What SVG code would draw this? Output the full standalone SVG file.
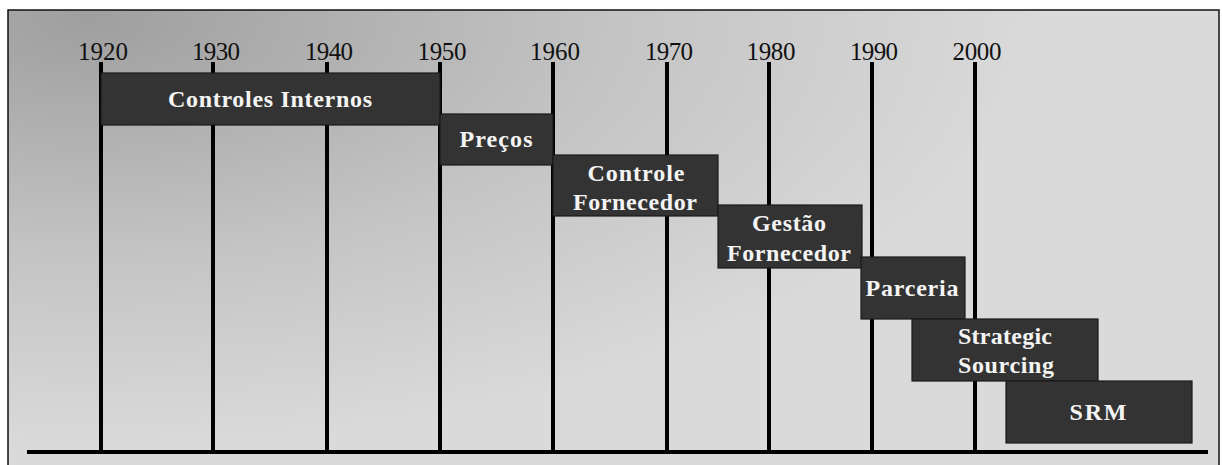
<svg xmlns="http://www.w3.org/2000/svg" width="1222" height="465" viewBox="0 0 1222 465">
<defs>
<radialGradient id="bg" gradientUnits="userSpaceOnUse" cx="90" cy="20" r="1" gradientTransform="translate(90 20) scale(950 430) translate(-90 -20)" fx="90" fy="20">
<stop offset="0" stop-color="#9f9f9f"/>
<stop offset="0.55" stop-color="#c4c4c4"/>
<stop offset="1" stop-color="#dadada"/>
</radialGradient>
<style>
.yr{font-family:"Liberation Serif",serif;font-size:25px;fill:#111;text-anchor:middle}
.bx{fill:#333;stroke:#1a1a1a;stroke-width:1.2}
.lb{font-family:"Liberation Serif",serif;font-weight:bold;font-size:24px;fill:#f4f4f4;text-anchor:middle}
.ln{stroke:#000;stroke-width:4;fill:none}
</style>
</defs>
<rect x="0" y="0" width="1222" height="465" fill="#ffffff"/>
<rect x="8" y="10" width="1211" height="462" fill="url(#bg)" stroke="#111" stroke-width="1.5"/>
<g id="connectors">
<line class="ln" x1="101" y1="62" x2="101" y2="452"/>
<line class="ln" x1="213" y1="62" x2="213" y2="452"/>
<line class="ln" x1="327" y1="62" x2="327" y2="452"/>
<line class="ln" x1="440" y1="62" x2="440" y2="452"/>
<line class="ln" x1="553" y1="62" x2="553" y2="452"/>
<line class="ln" x1="667" y1="62" x2="667" y2="452"/>
<line class="ln" x1="769" y1="62" x2="769" y2="452"/>
<line class="ln" x1="872" y1="62" x2="872" y2="452"/>
<line class="ln" x1="975" y1="62" x2="975" y2="452"/>
<line class="ln" x1="27" y1="452" x2="1208" y2="452"/>
</g>
<g id="years">
<text class="yr" x="103" y="60" textLength="50">1920</text>
<text class="yr" x="216" y="60" textLength="48">1930</text>
<text class="yr" x="329" y="60" textLength="48">1940</text>
<text class="yr" x="442" y="60" textLength="49">1950</text>
<text class="yr" x="555" y="60" textLength="50">1960</text>
<text class="yr" x="669" y="60" textLength="48">1970</text>
<text class="yr" x="771" y="60" textLength="49">1980</text>
<text class="yr" x="874" y="60" textLength="48">1990</text>
<text class="yr" x="977" y="60" textLength="49">2000</text>
</g>
<g id="controles-internos">
<rect class="bx" x="101" y="73" width="339" height="52"/>
<text class="lb" x="270" y="107" textLength="204">Controles Internos</text>
</g>
<g id="precos">
<rect class="bx" x="440" y="114" width="113" height="51"/>
<text class="lb" x="496" y="147" textLength="73">Preços</text>
</g>
<g id="controle-fornecedor">
<rect class="bx" x="553" y="155" width="165" height="61"/>
<text class="lb" x="636" y="181" textLength="97">Controle</text>
<text class="lb" x="635" y="210" textLength="124">Fornecedor</text>
</g>
<g id="gestao-fornecedor">
<rect class="bx" x="718" y="205" width="144" height="63"/>
<text class="lb" x="789" y="231" textLength="74">Gestão</text>
<text class="lb" x="789" y="261" textLength="124">Fornecedor</text>
</g>
<g id="parceria">
<rect class="bx" x="861" y="257" width="104" height="62"/>
<text class="lb" x="912" y="296" textLength="93">Parceria</text>
</g>
<g id="strategic-sourcing">
<rect class="bx" x="912" y="319" width="186" height="62"/>
<text class="lb" x="1005" y="344" textLength="94">Strategic</text>
<text class="lb" x="1006" y="373" textLength="96">Sourcing</text>
</g>
<g id="srm">
<rect class="bx" x="1006" y="381" width="186" height="62"/>
<text class="lb" x="1098" y="420" textLength="57">SRM</text>
</g>
</svg>
